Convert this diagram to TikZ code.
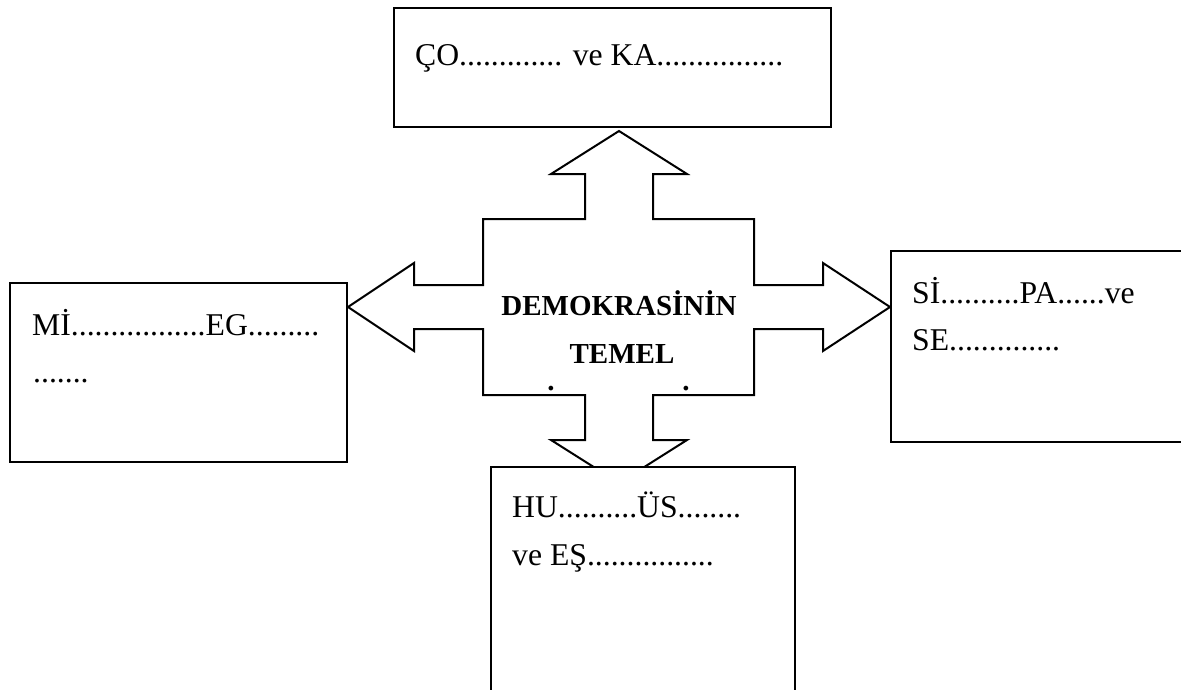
\documentclass[tikz,border=0pt]{standalone}
\usepackage{fontspec}
\setmainfont{Liberation Serif}
\begin{document}
\begin{tikzpicture}[x=1pt,y=-1pt,
  boxnode/.style={draw, line width=2pt, fill=white, inner sep=0pt, outer sep=0pt},
  lbl/.style={anchor=base west, inner sep=0pt, font=\fontsize{31.7}{38}\selectfont},
  ctr/.style={anchor=base, inner sep=0pt, font=\fontsize{29}{35}\selectfont\bfseries},
  quad/.style={draw, line width=2pt, line join=miter}]
\clip (0,0) rectangle (1181,689);
% four-way arrow
\draw[quad] (619,131) -- (687,174) -- (653,174) -- (653,219) -- (754,219) -- (754,285)
  -- (823,285) -- (823,263) -- (890,307) -- (823,351) -- (823,329) -- (754,329)
  -- (754,395) -- (653,395) -- (653,440) -- (687,440) -- (619,483) -- (551,440)
  -- (585,440) -- (585,395) -- (483,395) -- (483,329) -- (414,329) -- (414,351)
  -- (348,307) -- (414,263) -- (414,285) -- (483,285) -- (483,219) -- (585,219)
  -- (585,174) -- (551,174) -- cycle;
% boxes
\node[boxnode, minimum width=437pt, minimum height=119pt] (top) at (612.5,67.5) {};
\node[boxnode, minimum width=337pt, minimum height=179pt] (left) at (178.5,372.5) {};
\node[boxnode, minimum width=300pt, minimum height=191pt] (right) at (1041,346.5) {};
\node[boxnode, minimum width=304pt, minimum height=240pt] (bottom) at (643,587) {};
% texts
\node[lbl] (t1) at (415,65) {ÇO............. ve KA................};
\node[lbl] (l1) at (32,335) {Mİ.................EG.........};
\node[lbl] (l2) at (33,382) {.......};
\node[lbl] (r1) at (912,303) {Sİ..........PA......ve};
\node[lbl] (r2) at (912,350) {SE..............};
\node[lbl] (b1) at (512,517) {HU..........ÜS........};
\node[lbl] (b2) at (512,565) {ve EŞ................};
\node[ctr] (c1) at (619,315) {DEMOKRASİNİN};
\node[ctr] (c2) at (622,363) {TEMEL};
\node[ctr] (d1) at (551,390) {.};
\node[ctr] (d2) at (686,390) {.};
\end{tikzpicture}
\end{document}
